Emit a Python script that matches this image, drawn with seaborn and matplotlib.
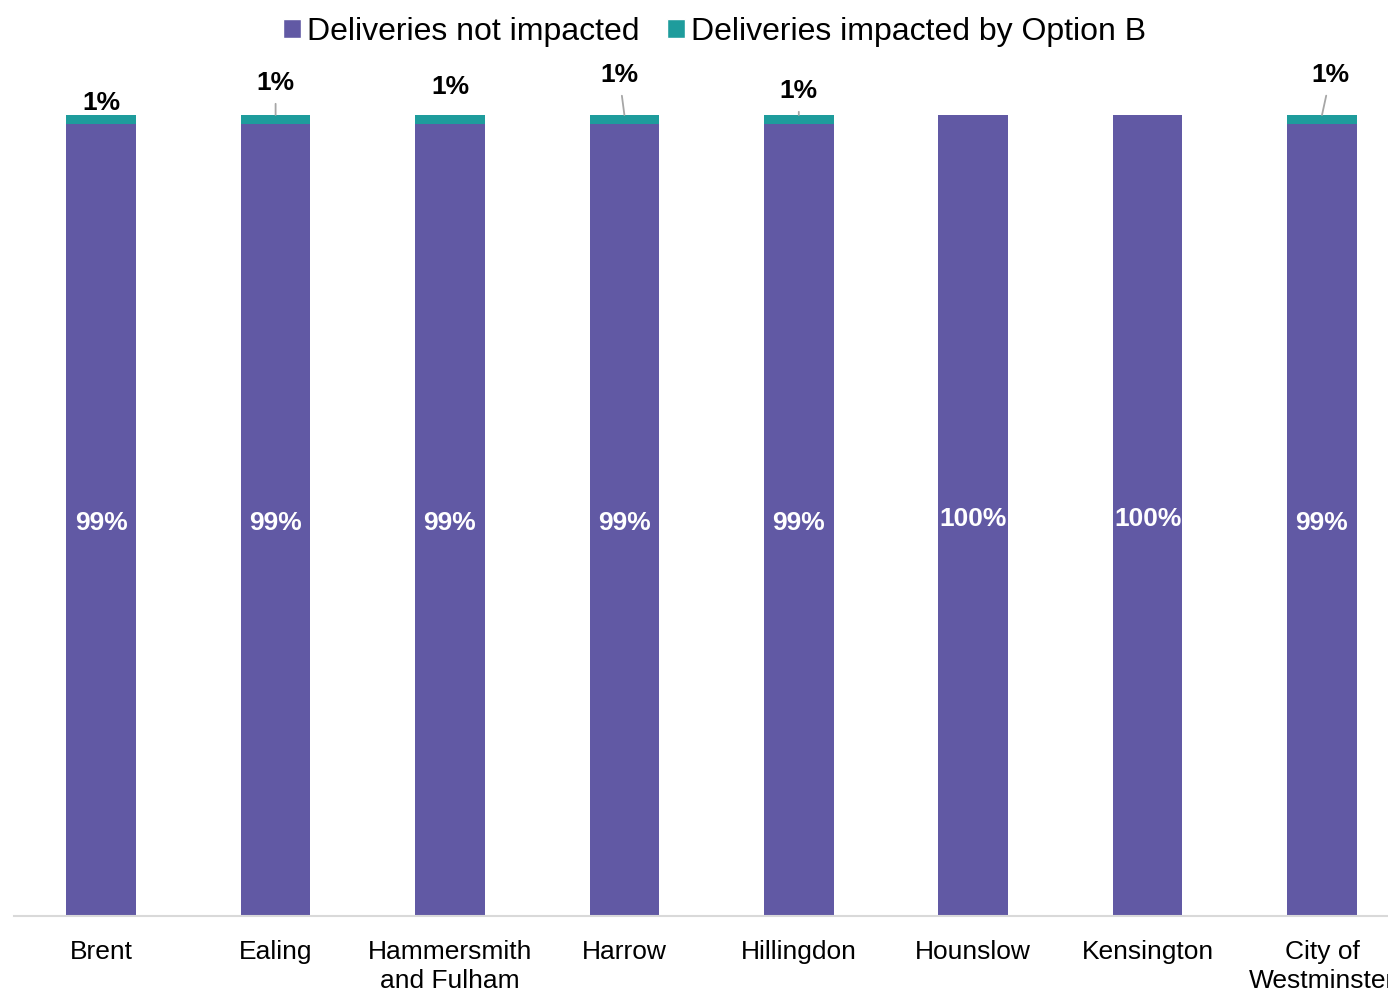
import matplotlib
matplotlib.use("Agg")
import matplotlib.pyplot as plt
import pandas as pd
import seaborn as sns
from matplotlib.patches import Patch

# data (percent of deliveries)
boroughs = ["Brent", "Ealing", "Hammersmith\nand Fulham", "Harrow", "Hillingdon",
            "Hounslow", "Kensington", "City of\nWestminster"]
not_impacted = [98.9, 98.9, 98.9, 98.9, 98.9, 100.0, 100.0, 98.9]
impacted = [1.1, 1.1, 1.1, 1.1, 1.1, 0.0, 0.0, 1.1]

# label placement for the small "impacted" labels (offset in categories, offset above bar in %)
label_dx = [0.0, 0.0, 0.0, -0.03, 0.0, 0.0, 0.0, 0.05]
label_dy = [1.5, 4.0, 3.5, 5.0, 3.0, 0.0, 0.0, 5.0]
leader = [False, True, False, True, True, False, False, True]

PURPLE = "#6159A4"
TEAL = "#1E9C9C"

sns.set_theme(style="white")
plt.rcParams['font.family'] = ['Liberation Sans', 'DejaVu Sans']
plt.rcParams['text.color'] = 'black'

df = pd.DataFrame({"borough": boroughs,
                   "not_impacted": not_impacted,
                   "impacted": impacted})
df["total"] = df["not_impacted"] + df["impacted"]

fig = plt.figure(figsize=(13.88, 9.94), dpi=100)
ax = fig.add_axes([14 / 1388, 78 / 994, 1 - 14 / 1388, 801 / 994])

# stacked bars: total in teal, then the not-impacted part over it
sns.barplot(data=df, x="borough", y="total", color=TEAL, saturation=1,
            width=0.4, linewidth=0, ax=ax)
sns.barplot(data=df, x="borough", y="not_impacted", color=PURPLE, saturation=1,
            width=0.4, linewidth=0, ax=ax)

ax.set_ylim(0, 100)
ax.set_xlim(-0.5, -0.5 + 1374 / 174.4)
ax.set_xlabel("")
ax.set_ylabel("")
ax.set_yticks([])
ax.tick_params(axis="x", length=0, pad=17, labelsize=19, colors="black")
for lbl in ax.get_xticklabels():
    lbl.set_linespacing(1.3)

for side in ["top", "left", "right"]:
    ax.spines[side].set_visible(False)
ax.spines["bottom"].set_color("#D9D9D9")
ax.spines["bottom"].set_linewidth(1.5)

# white labels inside the purple segments
for i, v in enumerate(df["not_impacted"]):
    ax.text(i, v / 2 - 0.4, f"{v:.0f}%", ha="center", va="center", color="white",
            fontsize=19, fontweight="bold")

# small labels for the impacted share
for i, (v, tot) in enumerate(zip(df["impacted"], df["total"])):
    if v <= 0:
        continue
    props = None
    if leader[i]:
        props = dict(arrowstyle="-", color="#A6A6A6", lw=1.3,
                     shrinkA=4, shrinkB=0)
    ax.annotate(f"{v:.0f}%", xy=(i, tot),
                xytext=(i + label_dx[i], tot + label_dy[i]),
                textcoords="data", ha="center", va="center",
                fontsize=19, fontweight="bold", color="black",
                arrowprops=props, annotation_clip=False)

handles = [Patch(facecolor=PURPLE, label="Deliveries not impacted"),
           Patch(facecolor=TEAL, label="Deliveries impacted by Option B")]
fig.legend(handles=handles, loc="upper center", bbox_to_anchor=(0.515, 1.012),
           ncol=2, frameon=False, fontsize=23, handlelength=0.55,
           handleheight=0.55, handletextpad=0.2, columnspacing=0.85,
           labelcolor="black")

fig.savefig("out.png", dpi=100)
